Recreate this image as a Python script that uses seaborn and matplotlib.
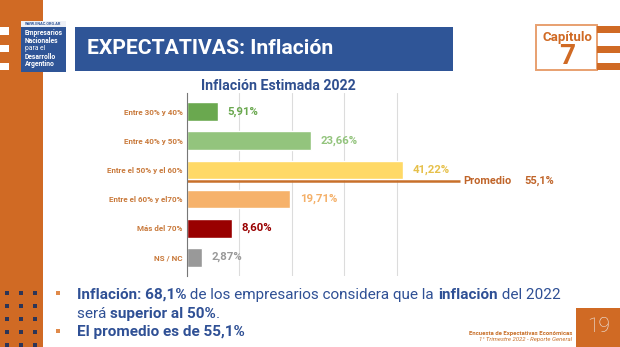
import matplotlib
matplotlib.use("Agg")
import matplotlib.pyplot as plt
import seaborn as sns
import pandas as pd
from matplotlib.patches import Rectangle
from matplotlib.transforms import IdentityTransform

categories = ["Entre 30% y 40%", "Entre 40% y 50%", "Entre el 50% y el 60%",
              "Entre el 60% y el70%", "Más del 70%", "NS / NC"]
values = [5.91, 23.66, 41.22, 19.71, 8.60, 2.87]
value_labels = ["5,91%", "23,66%", "41,22%", "19,71%", "8,60%", "2,87%"]
bar_colors = ["#6aa84f", "#93c47d", "#ffd966", "#f6b26b", "#990000", "#999999"]
label_colors = ["#6aa84f", "#93c47d", "#e6c04a", "#f4b069", "#990000", "#999999"]
promedio = 55.1
promedio_label = "55,1%"

sns.set_theme(style="white")
plt.rcParams['font.family'] = ['Roboto', 'DejaVu Sans']

W, H = 620, 347
fig = plt.figure(figsize=(6.2, 3.47), dpi=100)
fig.patch.set_facecolor("white")

ORANGE = "#d06a24"
BLUE = "#2f5597"
TXT = "#2f5095"


def fx(x):
    return x / W


def fy(y):
    return 1 - y / H


def rect(x0, y0, x1, y1, **kw):
    fig.patches.append(Rectangle((fx(x0), fy(y1)), (x1 - x0) / W, (y1 - y0) / H,
                                 transform=fig.transFigure, **kw))


def ftext(x, y, s, **kw):
    return fig.text(fx(x), fy(y), s, **kw)


# left orange band
rect(0, 0, 43, H, facecolor=ORANGE, edgecolor="none")
for (a, b) in [(27, 35), (45, 52), (63, 70)]:
    rect(0, a, 9, b, facecolor="white", edgecolor="none")
for yy in [293, 306, 319, 332, 345]:
    for xx in [7, 21, 35]:
        rect(xx - 2, yy - 2, xx + 2, yy + 2, facecolor="#2d3557", edgecolor="none")

# logo box
rect(21, 21, 66, 27, facecolor="#eef0f6", edgecolor="none")
ftext(43.5, 24, "WWW.ENAC.ORG.AR", fontsize=2.8, fontweight="bold", color=BLUE,
      ha="center", va="center")
rect(21, 27, 66, 72, facecolor=BLUE, edgecolor="none")
for txt, yy, wt in [("Empresarios", 33, "bold"), ("Nacionales", 41, "bold"),
                    ("para el", 49, "normal"), ("Desarrollo", 57, "bold"),
                    ("Argentino", 64, "bold")]:
    ftext(25, yy, txt, fontsize=4.9, fontweight=wt, color="white", ha="left", va="center")

# header
rect(75, 27, 453, 71, facecolor=BLUE, edgecolor="none")
ftext(87, 49, "EXPECTATIVAS: Inflación", fontsize=15.2, fontweight="bold", color="white",
      ha="left", va="center")

# chapter box
rect(536, 25, 597, 70, facecolor="white", edgecolor="#e8a070", linewidth=1.4)
for (a, b) in [(26, 33), (46, 53), (63, 70)]:
    rect(597, a, 620, b, facecolor=ORANGE, edgecolor="none")
ftext(567, 37, "Capítulo", fontsize=9.5, fontweight="bold", color=ORANGE, ha="center", va="center")
ftext(567, 56, "7", fontsize=20, fontweight="bold", color=ORANGE, ha="center", va="center")

# chart
ax = fig.add_axes([187 / W, 1 - 276 / H, 262 / W, 183 / H])
df = pd.DataFrame({"cat": categories, "val": values})
sns.barplot(data=df, x="val", y="cat", hue="cat", palette=bar_colors, legend=False,
            ax=ax, width=0.65, orient="h", saturation=1)
ax.set_xlim(0, 50)
ax.set_ylim(5.65, -0.65)
ax.set_xticks([0, 10, 20, 30, 40])
ax.set_xticklabels([])
ax.grid(axis="x", color="#dcdcdc", linewidth=0.8)
ax.set_axisbelow(True)
for s in ["top", "right", "bottom"]:
    ax.spines[s].set_visible(False)
ax.spines["left"].set_color("#777777")
ax.spines["left"].set_linewidth(0.8)
ax.tick_params(axis="both", length=0, pad=3)
ax.set_xlabel("")
ax.set_ylabel("")
for lab in ax.get_yticklabels():
    lab.set_fontsize(5.8)
    lab.set_fontweight("bold")
    lab.set_color("#c97a3c")
for p in ax.patches:
    p.set_clip_on(False)

for i, (v, s, c) in enumerate(zip(values, value_labels, label_colors)):
    ax.annotate(s, (v, i), xytext=(7, 0), textcoords="offset points", ha="left",
                va="center", fontsize=8.2, fontweight="bold", color=c, annotation_clip=False)

# promedio line
ax.plot([0, 52.1], [2.38, 2.38], color="#c8702a", linewidth=1.8, clip_on=False,
        solid_capstyle="butt")
ax.annotate("Promedio", (52.1, 2.38), xytext=(2, 0), textcoords="offset points",
            ha="left", va="center", fontsize=7.9, fontweight="bold", color="#c0652a",
            annotation_clip=False)
ax.annotate(promedio_label, (52.1, 2.38), xytext=(46, 0), textcoords="offset points",
            ha="left", va="center", fontsize=7.9, fontweight="bold", color="#c0652a",
            annotation_clip=False)

ftext(278, 86, "Inflación Estimada 2022", fontsize=10.2, fontweight="bold", color="#2f4f8f",
      ha="center", va="center")

# bullet text
renderer = fig.canvas.get_renderer()


def seq(x, y, parts, size=11.0):
    cur = x
    for s, wt in parts:
        t = fig.text(cur, H - y, s, transform=IdentityTransform(), fontsize=size,
                     fontweight=wt, color=TXT, ha="left", va="baseline")
        cur = t.get_window_extent(renderer).x1


for yy in [293, 331]:
    rect(56, yy - 2, 60, yy + 2, facecolor="#e08a4a", edgecolor="none")

seq(77, 299, [("Inflación: 68,1%", "bold"), (" de los empresarios considera que la ", "normal"),
              ("inflación", "bold"), (" del 2022", "normal")])
seq(77, 318, [("será ", "normal"), ("superior al 50%", "bold"), (".", "normal")])
seq(77, 336, [("El promedio es de 55,1%", "bold")])

# footer
rect(576, 308, 620, 347, facecolor=ORANGE, edgecolor="none")
ftext(599, 327, "19", fontsize=15, color="#eeeeee", ha="center", va="center", fontweight="light")
ftext(572, 333, "Encuesta de Expectativas Económicas", fontsize=4.3, fontweight="bold",
      color="#c8702a", ha="right", va="center")
ftext(572, 339, "1° Trimestre 2022 - Reporte General", fontsize=4.3, style="italic",
      color="#c8702a", ha="right", va="center")

fig.savefig("out.png", dpi=100)
